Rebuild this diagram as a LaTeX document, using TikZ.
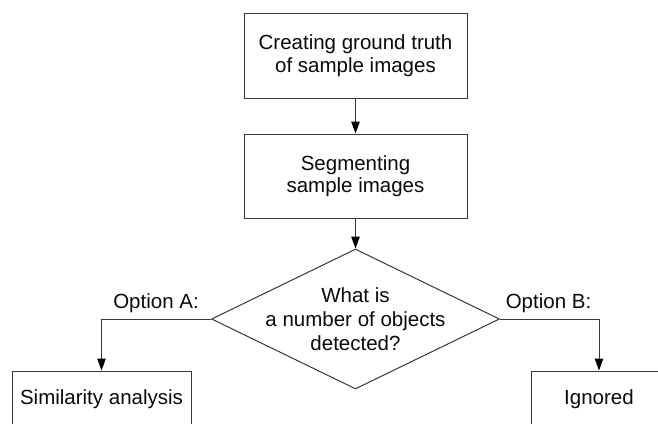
\documentclass[tikz,border=0pt]{standalone}
\usepackage{fontspec}
\setmainfont{Liberation Sans}
\usetikzlibrary{shapes.geometric,arrows.meta}
\definecolor{linec}{RGB}{55,55,55}
\definecolor{txtc}{RGB}{10,10,10}
\begin{document}
\begin{tikzpicture}[x=1pt,y=-1pt,
  box/.style={draw=linec,line width=1pt,rectangle,inner sep=0pt,align=center,text=txtc,font=\fontsize{20.5}{22.5}\selectfont},
  decision/.style={draw=linec,line width=1pt,diamond,inner sep=0pt},
  conn/.style={draw=linec,line width=1pt,-{Triangle[length=12pt,width=8.5pt,color=black]}},
  lbl/.style={text=txtc,font=\fontsize{20.5}{24}\selectfont,inner sep=0pt}]
\useasboundingbox (0,0) rectangle (658,423);
\clip (0,0) rectangle (658,423);
\node[box,minimum width=223pt,minimum height=85pt] (b1) at (355.5,55.5) {Creating ground truth\\of sample images};
\node[box,minimum width=223pt,minimum height=84pt] (b2) at (355.5,176) {Segmenting\\sample images};
\node[decision,minimum width=288pt,minimum height=140pt,
  label={[lbl,align=center]center:{What is\\a number of objects\\detected?}}] (d) at (355.5,319) {};
\node[box,minimum width=179pt,minimum height=56pt] (sim) at (101.5,399) {Similarity analysis};
\node[box,minimum width=136pt,minimum height=56pt] (ign) at (599,399) {Ignored};
\node[lbl,anchor=base] (oa) at (156,308) {Option A:};
\node[lbl,anchor=base] (ob) at (548.5,308) {Option B:};
\draw[conn] (b1.south) -- (b2.north);
\draw[conn] (b2.south) -- (d.north);
\draw[conn] (d.west) -| (sim.north);
\draw[conn] (d.east) -| (ign.north);
\end{tikzpicture}
\end{document}
